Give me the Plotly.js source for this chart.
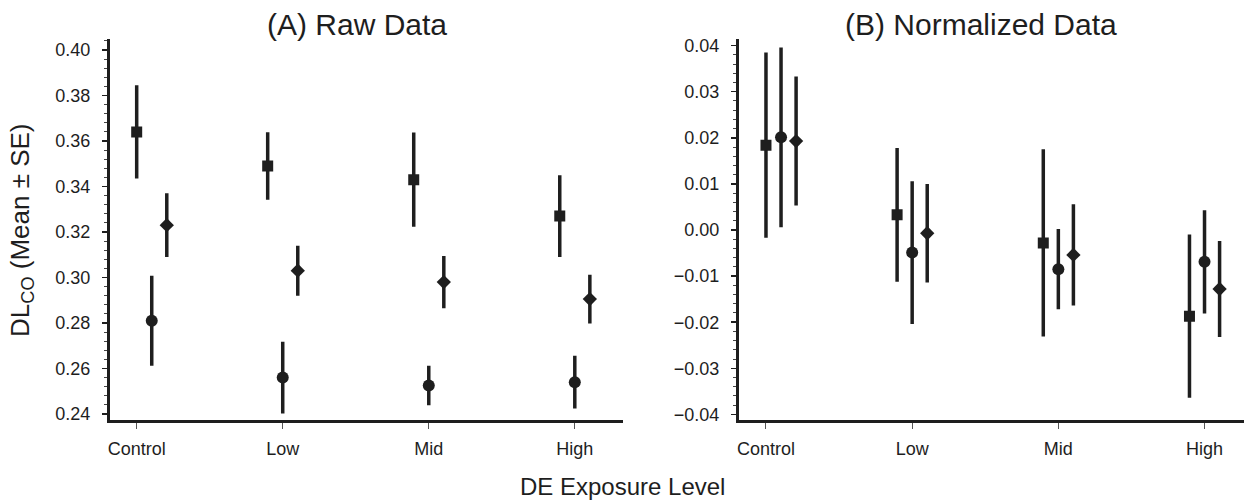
<!DOCTYPE html>
<html>
<head>
<meta charset="utf-8">
<script src="https://cdn.plot.ly/plotly-3.0.1.min.js"></script>
<style>html,body{margin:0;padding:0;background:#fff;}#chart{width:1244px;height:504px;}</style>
</head>
<body>
<div id="chart"></div>
<script>
// ---- data ----
const categories = ['Control', 'Low', 'Mid', 'High'];

const rawSquare    = [0.364, 0.349, 0.343, 0.327];
const rawSquareSE  = [0.0205, 0.0148, 0.0207, 0.018];
const rawCircle    = [0.281, 0.256, 0.2525, 0.254];
const rawCircleSE  = [0.0198, 0.0158, 0.0087, 0.0116];
const rawDiamond   = [0.323, 0.303, 0.298, 0.2905];
const rawDiamondSE = [0.014, 0.011, 0.0115, 0.0107];

const normSquare    = [0.0184, 0.0033, -0.0028, -0.0187];
const normSquareSE  = [0.0201, 0.0145, 0.0203, 0.0177];
const normCircle    = [0.0201, -0.0049, -0.0085, -0.0069];
const normCircleSE  = [0.0195, 0.0155, 0.0087, 0.0112];
const normDiamond   = [0.0193, -0.0007, -0.0054, -0.0128];
const normDiamondSE = [0.014, 0.0107, 0.011, 0.0104];

// ---- styling / layout constants ----
const INK = '#1e1e1e';
const FONT = 'Liberation Sans, Arial, Helvetica, sans-serif';
const OFFSET = 0.103;            // dodge between the three series
const groupShift = [0.103, 0, 0, 0]; // the Control group is drawn shifted right

function xs(seriesIdx) {
  return categories.map((c, i) => i + groupShift[i] + (seriesIdx - 1) * OFFSET);
}

function trace(y, se, seriesIdx, symbol, size, xa, ya) {
  return {
    type: 'scatter', mode: 'markers',
    x: xs(seriesIdx), y: y,
    xaxis: xa, yaxis: ya,
    marker: {symbol: symbol, size: size, color: INK, line: {width: 0}},
    error_y: {type: 'data', array: se, visible: true, width: 0, thickness: 3.5, color: INK},
    hoverinfo: 'skip', showlegend: false
  };
}

const data = [
  trace(rawSquare, rawSquareSE, 0, 'square', 11, 'x', 'y'),
  trace(rawCircle, rawCircleSE, 1, 'circle', 12, 'x', 'y'),
  trace(rawDiamond, rawDiamondSE, 2, 'diamond', 11, 'x', 'y'),
  trace(normSquare, normSquareSE, 0, 'square', 11, 'x2', 'y2'),
  trace(normCircle, normCircleSE, 1, 'circle', 12, 'x2', 'y2'),
  trace(normDiamond, normDiamondSE, 2, 'diamond', 11, 'x2', 'y2')
];

const xCommon = {
  tickmode: 'array', tickvals: [0, 1, 2, 3], ticktext: categories,
  showline: true, linecolor: INK, linewidth: 3,
  ticks: 'outside', ticklen: 6, tickwidth: 1, tickcolor: '#555',
  showgrid: false, zeroline: false,
  tickfont: {family: FONT, size: 18, color: INK},
  ticklabelstandoff: 4
};
const yCommon = {
  showline: true, linecolor: INK, linewidth: 3,
  ticks: 'outside', ticklen: 5, tickwidth: 1.5, tickcolor: INK,
  showgrid: false, zeroline: false,
  tickfont: {family: FONT, size: 18, color: INK},
  ticklabelstandoff: 8
};

const yDom = [0.1657, 0.9226];

const layout = {
  width: 1244, height: 504,
  margin: {l: 0, r: 0, t: 0, b: 0},
  paper_bgcolor: '#fff', plot_bgcolor: '#fff',
  xaxis: Object.assign({}, xCommon, {domain: [0.0884, 0.5008], range: [-0.183, 3.33], anchor: 'y'}),
  yaxis: Object.assign({}, yCommon, {domain: yDom, range: [0.23714, 0.40484], anchor: 'x',
    tickvals: [0.24, 0.26, 0.28, 0.30, 0.32, 0.34, 0.36, 0.38, 0.40], tickformat: '.2f',
    minor: {dtick: 0.004, tick0: 0.24, ticks: 'outside', ticklen: 3, tickwidth: 1, tickcolor: '#444'}}),
  xaxis2: Object.assign({}, xCommon, {domain: [0.594, 1.0], range: [-0.185, 3.27], anchor: 'y2'}),
  yaxis2: Object.assign({}, yCommon, {domain: yDom, range: [-0.04132, 0.04143], anchor: 'x2',
    tickvals: [-0.04, -0.03, -0.02, -0.01, 0, 0.01, 0.02, 0.03, 0.04], tickformat: '.2f',
    minor: {dtick: 0.002, tick0: 0, ticks: 'outside', ticklen: 3, tickwidth: 1, tickcolor: '#444'}}),
  annotations: [
    {text: '(A) Raw Data', xref: 'paper', yref: 'paper', x: 0.2872, y: 0.952,
     xanchor: 'center', yanchor: 'middle', showarrow: false,
     font: {family: FONT, size: 30, color: INK}},
    {text: '(B) Normalized Data', xref: 'paper', yref: 'paper', x: 0.7886, y: 0.952,
     xanchor: 'center', yanchor: 'middle', showarrow: false,
     font: {family: FONT, size: 30, color: INK}},
    {text: 'DE Exposure Level', xref: 'paper', yref: 'paper', x: 0.5, y: 0.0357,
     xanchor: 'center', yanchor: 'middle', showarrow: false,
     font: {family: FONT, size: 24, color: INK}},
    {text: 'DL<sub>CO</sub> (Mean ± SE)', xref: 'paper', yref: 'paper', x: 0.0177, y: 0.5437,
     xanchor: 'center', yanchor: 'middle', showarrow: false, textangle: -90,
     font: {family: FONT, size: 26, color: INK}}
  ]
};

Plotly.newPlot('chart', data, layout, {staticPlot: true, displayModeBar: false});
</script>
</body>
</html>
